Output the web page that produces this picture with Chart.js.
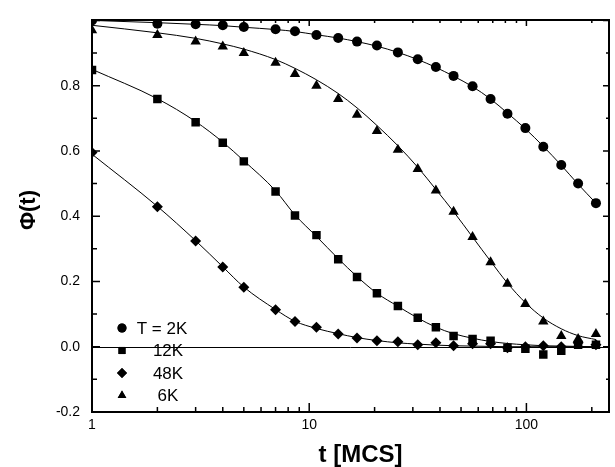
<!DOCTYPE html>
<html>
<head>
<meta charset="utf-8">
<script src="https://cdn.jsdelivr.net/npm/chart.js@4/dist/chart.umd.min.js"></script>
<style>
  html, body { margin: 0; padding: 0; background: #fff; }
  #wrap { width: 615px; height: 467px; position: relative; }
</style>
</head>
<body>
<div id="wrap"><canvas id="chart"></canvas></div>
<script>
// ── Data ─────────────────────────────────────────────────────────
const tValues = [1, 2, 3, 4, 5, 7, 8.6, 10.8, 13.6, 16.6, 20.5, 25.6, 31.6, 38.3, 46.2, 56.5, 68.4, 81.8, 98.9, 119.6, 144.7, 173, 209];

const phi2K  = [1.0, 0.99, 0.988, 0.985, 0.98, 0.973, 0.967, 0.955, 0.946, 0.935, 0.923, 0.902, 0.881, 0.857, 0.830, 0.798, 0.759, 0.714, 0.670, 0.613, 0.557, 0.5, 0.44];
const phi12K = [0.848, 0.759, 0.688, 0.625, 0.568, 0.476, 0.402, 0.342, 0.268, 0.214, 0.164, 0.125, 0.089, 0.060, 0.033, 0.024, 0.018, -0.003, -0.006, -0.024, -0.012, 0.006, 0.006];
const phi48K = [0.595, 0.429, 0.324, 0.244, 0.182, 0.113, 0.077, 0.060, 0.039, 0.027, 0.018, 0.015, 0.006, 0.012, 0.003, 0.009, 0.009, -0.003, 0.0, 0.003, 0.0, 0.012, 0.006];
const phi6K  = [0.97, 0.955, 0.935, 0.92, 0.9, 0.87, 0.836, 0.80, 0.759, 0.711, 0.661, 0.604, 0.545, 0.479, 0.414, 0.336, 0.259, 0.193, 0.131, 0.077, 0.033, 0.024, 0.039];

// fitted curves (as drawn in the figure)
const fit2K  = [1.0, 0.993, 0.988, 0.984, 0.979, 0.972, 0.966, 0.956, 0.946, 0.935, 0.921, 0.902, 0.880, 0.856, 0.829, 0.797, 0.759, 0.716, 0.668, 0.614, 0.556, 0.498, 0.44];
const fit12K = [0.85, 0.76, 0.69, 0.627, 0.57, 0.478, 0.404, 0.338, 0.27, 0.215, 0.164, 0.124, 0.088, 0.06, 0.04, 0.026, 0.016, 0.01, 0.006, 0.003, 0.002, 0.001, 0.0];
const fit48K = [0.59, 0.43, 0.325, 0.245, 0.183, 0.114, 0.078, 0.056, 0.04, 0.028, 0.019, 0.012, 0.008, 0.005, 0.003, 0.002, 0.001, 0, 0, 0, 0, 0, 0];
const fit6K  = [0.985, 0.962, 0.945, 0.928, 0.912, 0.880, 0.853, 0.818, 0.776, 0.732, 0.678, 0.616, 0.55, 0.482, 0.414, 0.336, 0.262, 0.195, 0.135, 0.088, 0.055, 0.034, 0.022];

const legendLabels = ['T = 2K', '12K', '48K', '6K'];
const xLabelTicks = [1, 10, 100];
const xMinorTicks = [2, 3, 4, 5, 6, 7, 8, 9, 20, 30, 40, 50, 60, 70, 80, 90, 200];
const yTicks = [-0.2, -0.1, 0, 0.1, 0.2, 0.3, 0.4, 0.5, 0.6, 0.7, 0.8, 0.9, 1.0];

const FONT = '"Liberation Sans", Arial, sans-serif';

function pts(arr) {
  return tValues.map((t, i) => ({ x: t, y: arr[i] }));
}

function fitSet(arr) {
  return {
    data: pts(arr), showLine: true, pointRadius: 0,
    borderColor: '#000', borderWidth: 1, cubicInterpolationMode: 'monotone',
  };
}

function markSet(arr, style, r) {
  return {
    data: pts(arr), showLine: false, pointStyle: style, pointRadius: r,
    backgroundColor: '#000', borderColor: '#000', borderWidth: 0,
  };
}

const markers = [
  { style: 'circle', r: 4.5 },
  { style: 'rect', r: 5 },
  { style: 'rectRot', r: 5 },
  { style: 'triangle', r: 5 },
];

// ── Frame, inward ticks, zero line, legend and titles ────────────
const decorPlugin = {
  id: 'decor',
  beforeDatasetsDraw(chart) {
    const { ctx, chartArea: a, scales: { y } } = chart;
    ctx.save();
    ctx.strokeStyle = '#000';
    ctx.lineWidth = 1;
    const y0 = Math.round(y.getPixelForValue(0)) + 0.5;
    ctx.beginPath();
    ctx.moveTo(a.left, y0);
    ctx.lineTo(a.right, y0);
    ctx.stroke();
    ctx.restore();
  },
  afterDraw(chart) {
    const { ctx, chartArea: a, scales: { x, y } } = chart;
    const L = Math.round(a.left), R = Math.round(a.right);
    const T = Math.round(a.top), B = Math.round(a.bottom);
    ctx.save();
    ctx.strokeStyle = '#000';
    ctx.fillStyle = '#000';
    // frame: axis lines drawn as filled bars
    ctx.fillRect(L - 1, T - 1, 2, B - T + 2);
    ctx.fillRect(L - 1, B - 1, R - L + 2, 2);
    ctx.fillRect(L - 1, T - 1, R - L + 2, 2);
    ctx.fillRect(R - 1, T - 1, 2, B - T + 2);

    ctx.lineWidth = 1.5;
    ctx.beginPath();
    const xt = xLabelTicks.map(v => [v, true]).concat(xMinorTicks.map(v => [v, false]));
    xt.forEach(([v, major]) => {
      const px = x.getPixelForValue(v);
      ctx.moveTo(px, B); ctx.lineTo(px, B - (major ? 9 : 5));
      ctx.moveTo(px, T); ctx.lineTo(px, T + (major ? 6 : 3));
    });
    yTicks.forEach(v => {
      const major = Math.abs(Math.round(v * 10)) % 2 === 0;
      const py = y.getPixelForValue(v);
      ctx.moveTo(L, py); ctx.lineTo(L + (major ? 8 : 5), py);
      ctx.moveTo(R, py); ctx.lineTo(R - (major ? 6 : 3), py);
    });
    ctx.stroke();

    // legend
    ctx.font = '17px ' + FONT;
    ctx.textBaseline = 'middle';
    ctx.textAlign = 'center';
    legendLabels.forEach((lab, i) => {
      const cy = T + 308 + i * 22.5;
      const cx = L + 30;
      const m = markers[i];
      Chart.helpers.drawPoint(ctx, { pointStyle: m.style, radius: m.r, borderWidth: 0 }, cx, cy);
      ctx.fill();
      ctx.fillText(lab, L + (i === 0 ? 70 : 76), cy + 1);
    });

    // axis titles
    ctx.font = 'bold 24px ' + FONT;
    ctx.textAlign = 'center';
    ctx.fillText('t [MCS]', (L + R) / 2 + 10, 455);
    ctx.translate(29, 210);
    ctx.rotate(-Math.PI / 2);
    ctx.font = 'bold 22px ' + FONT;
    ctx.fillText('\u03A6(t)', 0, 0);
    ctx.restore();
  },
};

const datasets = [
  fitSet(fit2K), fitSet(fit12K), fitSet(fit48K), fitSet(fit6K),
  markSet(phi2K, 'circle', 5),
  markSet(phi12K, 'rect', 6),
  markSet(phi48K, 'rectRot', 5.5),
  markSet(phi6K, 'triangle', 6),
];

new Chart(document.getElementById('chart'), {
  type: 'scatter',
  data: { datasets },
  options: {
    responsive: true, maintainAspectRatio: false,
    animation: false,
    layout: { padding: { left: 0, right: 3, top: 7, bottom: 0 } },
    plugins: { legend: { display: false }, tooltip: { enabled: false } },
    scales: {
      x: {
        type: 'logarithmic', min: 1, max: 240,
        grid: { display: false, drawTicks: false },
        border: { display: false },
        afterFit: s => { s.height = 55; },
        ticks: {
          color: '#000', padding: 5, autoSkip: false, maxRotation: 0,
          font: { family: FONT, size: 14 },
          callback: v => xLabelTicks.includes(v) ? String(v) : '',
        },
      },
      y: {
        min: -0.2, max: 1.0,
        grid: { display: false, drawTicks: false },
        border: { display: false },
        afterFit: s => { s.width = 92; },
        ticks: {
          color: '#000', padding: 12, stepSize: 0.1,
          font: { family: FONT, size: 14 },
          callback: v => {
            const k = Math.round(v * 10);
            return (Math.abs(k) % 2 === 0 && k < 10) ? (k / 10).toFixed(1) : '';
          },
        },
      },
    },
  },
  plugins: [decorPlugin],
});
</script>
</body>
</html>
